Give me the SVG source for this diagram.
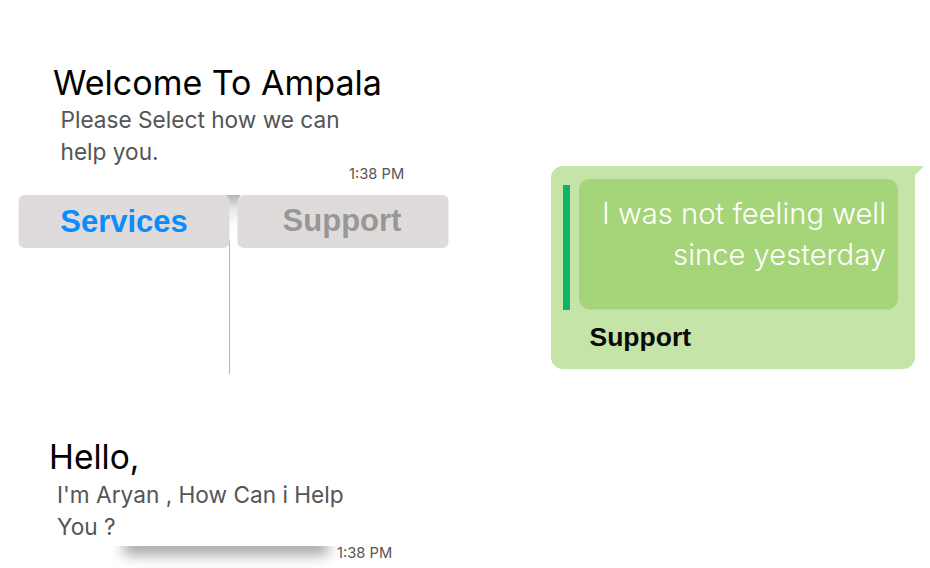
<svg xmlns="http://www.w3.org/2000/svg" width="930" height="568" viewBox="0 0 930 568">
<style>
.h{font-family:"Inter","Liberation Sans",sans-serif;font-size:33.500px;fill:#000}
.b{font-family:"Inter","Open Sans",sans-serif;font-size:22.650px;fill:#555}
.t{font-family:"Inter","Liberation Sans",sans-serif;font-size:14.700px;fill:#555}
.btn{font-family:"Liberation Sans",sans-serif;font-weight:700;font-size:31px;text-anchor:middle}
.m{font-family:"Inter","Liberation Sans",sans-serif;font-size:29.200px;fill:#fff;text-anchor:end;font-weight:300}
</style>
<defs>
<linearGradient id="g" x1="0" y1="0" x2="0" y2="1"><stop offset="0" stop-color="#b4b4b4"/><stop offset="0.25" stop-color="#e6e6e6"/><stop offset="0.6" stop-color="#fff"/></linearGradient>
<filter id="s" x="-20%" y="-150%" width="140%" height="400%"><feGaussianBlur stdDeviation="7"/></filter>
<clipPath id="c"><rect x="90" y="546" width="270" height="22"/></clipPath>
</defs>
<rect width="930" height="568" fill="#fff"/>
<g id="welcome">
<text class="h" x="53" y="95" style="font-size:34px">Welcome To Ampala</text>
<text class="b" x="60.500" y="128">Please Select how we can</text>
<text class="b" x="60.500" y="160">help you.</text>
<text class="t" x="349" y="179">1:38 PM</text>
</g>
<g id="connectors">
<rect x="226" y="195" width="14" height="53" fill="url(#g)"/>
<line x1="229.500" y1="240" x2="229.500" y2="374" stroke="#b5b5b5" stroke-width="1"/>
</g>
<g id="services">
<rect x="18.500" y="195" width="211" height="53" rx="6" fill="#e0dbdb"/>
<text class="btn" x="124" y="232" fill="#0a8cff">Services</text>
</g>
<g id="support">
<rect x="237.500" y="195" width="211" height="53" rx="6" fill="#e0dbdb"/>
<text class="btn" x="342" y="231" fill="#979797">Support</text>
</g>
<g id="reply">
<path d="M563 166H924L915 175V357a12 12 0 0 1-12 12H563a12 12 0 0 1-12-12V178a12 12 0 0 1 12-12Z" fill="#c5e4a8"/>
<rect x="563" y="185" width="7" height="125" fill="#10b364"/>
<rect x="579" y="179" width="319" height="130.500" rx="11" fill="#a6d478"/>
<text class="m" x="886" y="224">I was not feeling well</text>
<text class="m" x="886" y="265">since yesterday</text>
<text x="589.500" y="346" font-family="Liberation Sans,sans-serif" font-weight="700" font-size="26.500" fill="#0a0a0a">Support</text>
</g>
<g id="hello">
<g clip-path="url(#c)"><rect x="124" y="537" width="204" height="18" fill="#a4a4a4" filter="url(#s)"/></g>
<text class="h" x="49" y="469">Hello,</text>
<text class="b" x="57" y="503">I'm Aryan , How Can i Help</text>
<text class="b" x="57" y="535">You ?</text>
<text class="t" x="337" y="558">1:38 PM</text>
</g>
</svg>
